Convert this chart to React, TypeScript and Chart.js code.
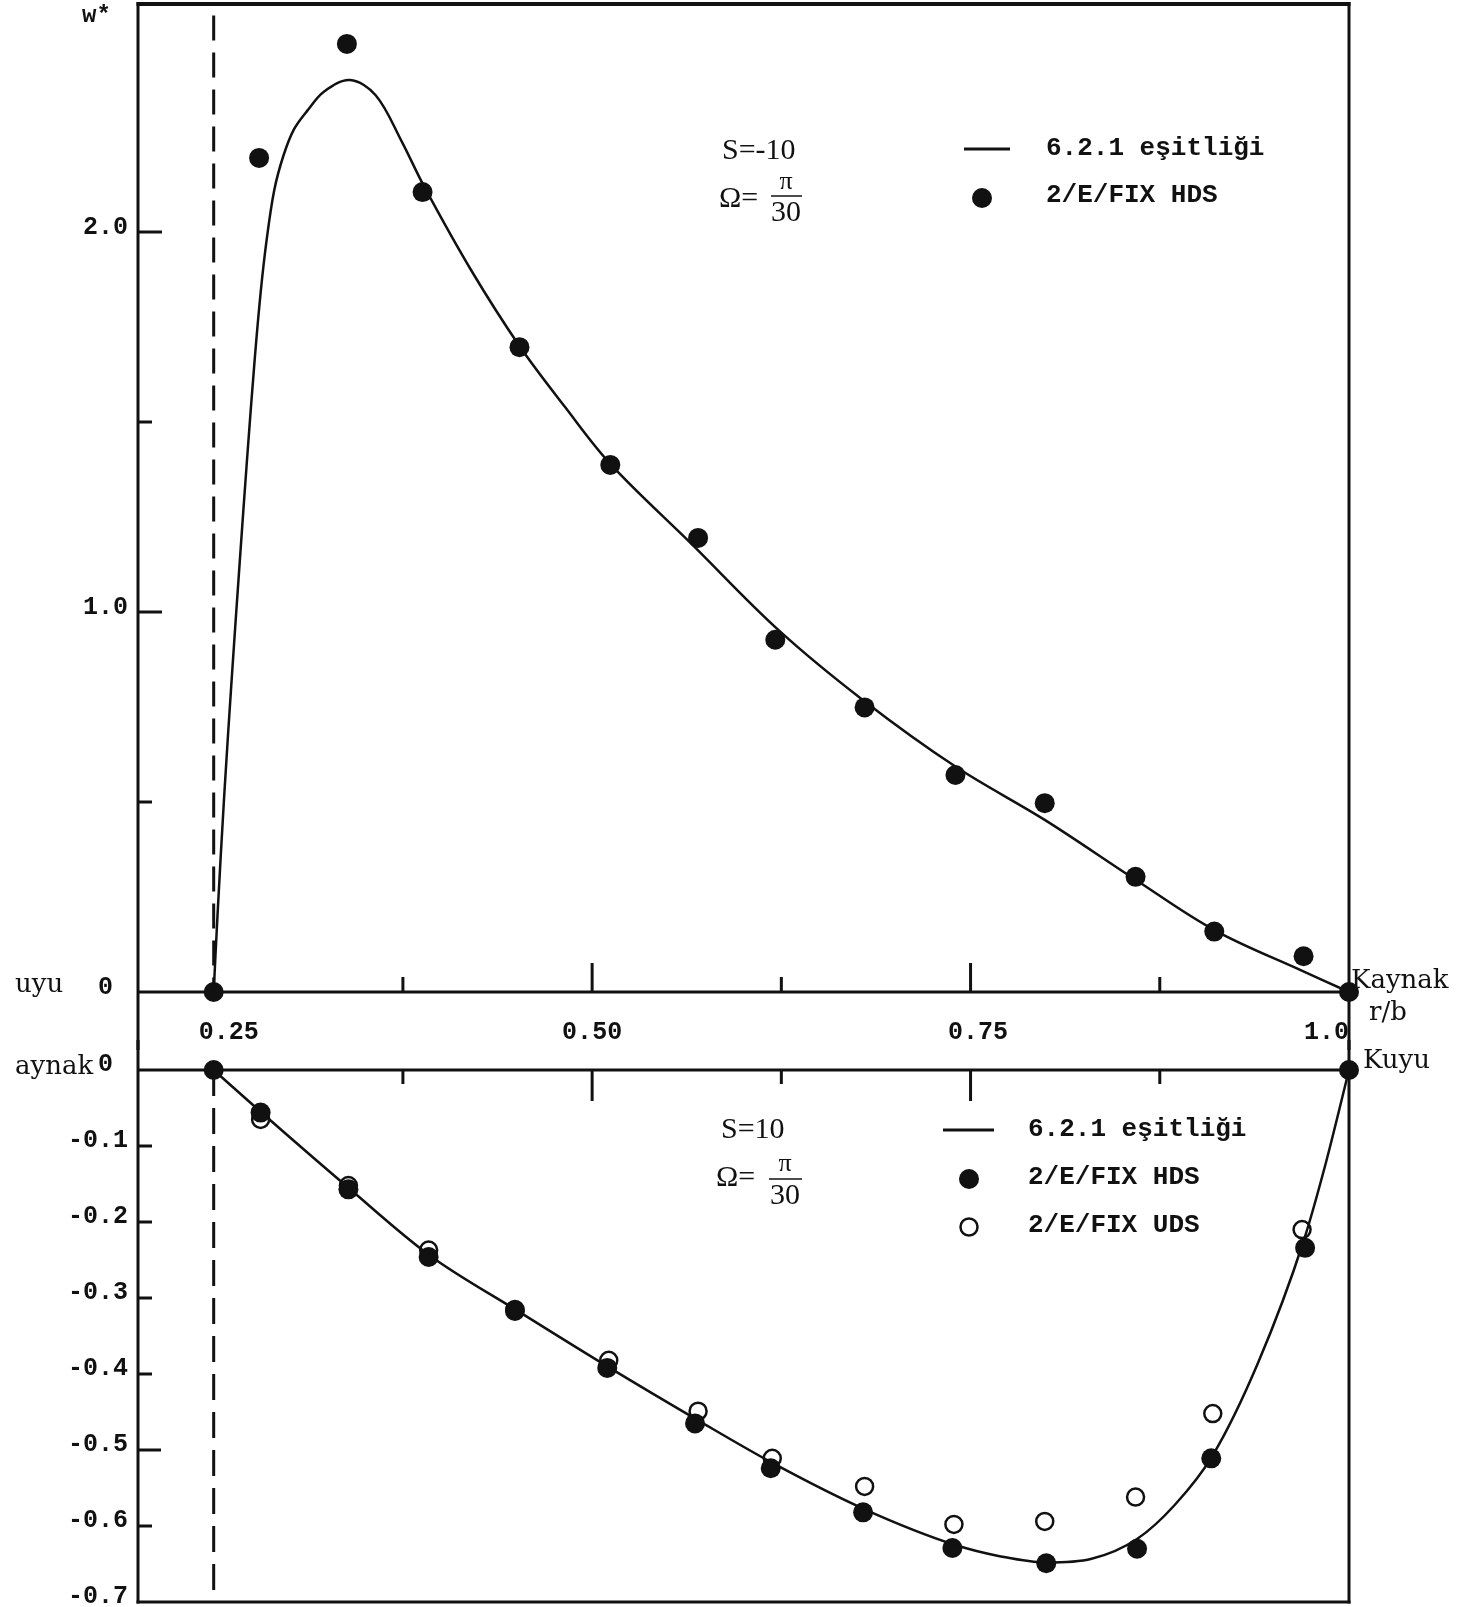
import React, { useEffect, useRef } from 'react';
import { Chart, registerables } from 'chart.js';

Chart.register(...registerables);

const INK = '#111111';
const MONO = "'Liberation Mono', 'DejaVu Sans Mono', monospace";
const SERIF = "'Liberation Serif', serif";
const SERIF_WIDE = "'DejaVu Serif', serif";

// ---------- axes ----------
const INNER_RADIUS = 0.25; // r/b of the inner wall (dashed line)
const X_MIN = 0.2;
const X_MAX = 1.0;
const TOP_Y_MIN = 0;
const TOP_Y_MAX = 2.6;
const BOT_Y_MIN = -0.7;
const BOT_Y_MAX = 0;
const DASH_TOP_Y = [2.57, 0];
const DASH_BOT_Y = [0, -0.7];

const X_TICK_VALUES = [0.25, 0.5, 0.75, 1.0];
const X_TICK_LABELS = ['  0.25', '0.50', ' 0.75', '1.0   '];
const X_MAJOR_MARKS = [0.5, 0.75];
const X_MINOR_MARKS = [0.375, 0.625, 0.875];

const TOP_Y_TICK_VALUES = [0, 1, 2];
const TOP_Y_TICK_LABELS = ['0 ', '1.0', '2.0'];
const TOP_Y_MAJOR_MARKS = [1, 2];
const TOP_Y_MINOR_MARKS = [0.5, 1.5];

const BOT_Y_TICK_VALUES = [0, -0.1, -0.2, -0.3, -0.4, -0.5, -0.6, -0.7];
const BOT_Y_TICK_LABELS = ['0 ', '-0.1', '-0.2', '-0.3', '-0.4', '-0.5', '-0.6', '-0.7'];
const BOT_Y_MAJOR_MARKS = [-0.5];
const BOT_Y_MINOR_MARKS = [-0.1, -0.2, -0.3, -0.4, -0.6];

// ---------- top panel (S = -10) ----------
const TOP_CURVE_X = [0.25, 0.2525, 0.257, 0.262, 0.267, 0.272, 0.277, 0.281, 0.285, 0.29, 0.296, 0.303, 0.312, 0.323, 0.34, 0.357, 0.374, 0.389, 0.42, 0.452, 0.482, 0.512, 0.5655, 0.623, 0.679, 0.7405, 0.799, 0.858, 0.911, 0.9695, 1.0];
const TOP_CURVE_Y = [0, 0.2, 0.52, 0.83, 1.12, 1.4, 1.66, 1.84, 1.98, 2.11, 2.2, 2.27, 2.32, 2.37, 2.4, 2.36, 2.24, 2.12, 1.9, 1.7, 1.54, 1.39, 1.18, 0.953, 0.768, 0.592, 0.453, 0.298, 0.163, 0.055, 0];
const TOP_HDS_X = [0.25, 0.28, 0.338, 0.388, 0.452, 0.512, 0.57, 0.621, 0.68, 0.74, 0.799, 0.859, 0.911, 0.97, 1.0];
const TOP_HDS_Y = [0, 2.195, 2.495, 2.105, 1.697, 1.387, 1.195, 0.927, 0.749, 0.571, 0.497, 0.303, 0.159, 0.094, 0];

// ---------- bottom panel (S = 10) ----------
const BOT_CURVE_X = [0.25, 0.281, 0.339, 0.392, 0.45, 0.51, 0.57, 0.62, 0.68, 0.74, 0.77, 0.8, 0.83, 0.86, 0.885, 0.91, 0.94, 0.97, 0.985, 1.0];
const BOT_CURVE_Y = [0, -0.055, -0.155, -0.243, -0.316, -0.39, -0.461, -0.518, -0.578, -0.625, -0.64, -0.648, -0.643, -0.617, -0.572, -0.507, -0.385, -0.225, -0.12, 0];
const BOT_HDS_X = [0.25, 0.281, 0.339, 0.392, 0.449, 0.51, 0.568, 0.618, 0.679, 0.738, 0.8, 0.86, 0.909, 0.971, 1.0];
const BOT_HDS_Y = [0, -0.056, -0.157, -0.246, -0.317, -0.392, -0.465, -0.524, -0.582, -0.629, -0.649, -0.63, -0.511, -0.234, 0];
const BOT_UDS_X = [0.281, 0.339, 0.392, 0.449, 0.511, 0.57, 0.619, 0.68, 0.739, 0.799, 0.859, 0.91, 0.969];
const BOT_UDS_Y = [-0.065, -0.152, -0.237, -0.315, -0.382, -0.449, -0.511, -0.548, -0.598, -0.594, -0.562, -0.452, -0.21];

const pts = (xs: number[], ys: number[]) => xs.map((x, i) => ({ x, y: ys[i] }));
const labelFor = (values: number[], labels: string[]) => (v: any) => {
  const i = values.findIndex((t) => Math.abs(t - Number(v)) < 1e-6);
  return i >= 0 ? labels[i] : '';
};

function line(ctx: CanvasRenderingContext2D, x1: number, y1: number, x2: number, y2: number, w: number) {
  ctx.save();
  ctx.strokeStyle = INK;
  ctx.lineWidth = w;
  ctx.lineCap = 'butt';
  ctx.beginPath();
  ctx.moveTo(x1, y1);
  ctx.lineTo(x2, y2);
  ctx.stroke();
  ctx.restore();
}

function text(ctx: CanvasRenderingContext2D, s: string, x: number, y: number, font: string, align: CanvasTextAlign = 'left') {
  ctx.save();
  ctx.fillStyle = INK;
  ctx.font = font;
  ctx.textAlign = align;
  ctx.textBaseline = 'middle';
  ctx.fillText(s, x, y);
  ctx.restore();
}

function dot(ctx: CanvasRenderingContext2D, x: number, y: number, r: number, filled: boolean) {
  ctx.save();
  ctx.beginPath();
  ctx.arc(x, y, r, 0, Math.PI * 2);
  if (filled) {
    ctx.fillStyle = INK;
    ctx.fill();
  } else {
    ctx.strokeStyle = INK;
    ctx.lineWidth = 2.5;
    ctx.stroke();
  }
  ctx.restore();
}

// page layout (px)
const TOP_SHIFT = 6; // top canvas starts 6px above the page so the frame sits at y=4
const TOP_H = 1056;
const ZERO_TOP_PAGE = 992;
const BOT_TOP = 1040;
const BOT_H = 573;
const LEGEND_FONT = `bold 26px ${MONO}`;
const PARAM_FONT = `30px ${SERIF}`;
const NAME_FONT = `26px ${SERIF_WIDE}`;

const topFrame = {
  id: 'topFrame',
  beforeDatasetsDraw(chart: any) {
    const ctx = chart.ctx;
    const { left, right, top, bottom } = chart.chartArea;
    const xs = chart.scales.x;
    const ys = chart.scales.y;
    line(ctx, left, top - 2, left, TOP_H, 3);
    line(ctx, right, top - 2, right, TOP_H, 3);
    line(ctx, left - 1.5, top, right + 1.5, top, 4);
    line(ctx, left, bottom, right, bottom, 3);
    X_MAJOR_MARKS.forEach((v) => { const p = xs.getPixelForValue(v); line(ctx, p, bottom, p, bottom - 29, 3); });
    X_MINOR_MARKS.forEach((v) => { const p = xs.getPixelForValue(v); line(ctx, p, bottom, p, bottom - 15, 3); });
    TOP_Y_MAJOR_MARKS.forEach((v) => { const p = ys.getPixelForValue(v); line(ctx, left, p, left + 24, p, 3); });
    TOP_Y_MINOR_MARKS.forEach((v) => { const p = ys.getPixelForValue(v); line(ctx, left, p, left + 14, p, 3); });
  },
  afterDraw(chart: any) {
    const ctx = chart.ctx;
    ctx.save();
    ctx.translate(0, TOP_SHIFT);
    text(ctx, 'w*', 82, 16, `bold 24px ${MONO}`);
    text(ctx, 'uyu', 15, 985, NAME_FONT);
    text(ctx, 'Kaynak', 1351, 981, NAME_FONT);
    text(ctx, 'r/b', 1369, 1013, NAME_FONT);
    // parameters
    text(ctx, 'S=-10', 722, 151, PARAM_FONT);
    text(ctx, 'Ω=', 719, 199, PARAM_FONT);
    text(ctx, 'π', 786, 182, `26px ${SERIF}`, 'center');
    line(ctx, 771, 196, 802, 196, 1.5);
    text(ctx, '30', 786, 213, PARAM_FONT, 'center');
    // legend
    line(ctx, 964, 149, 1010, 149, 3);
    text(ctx, '6.2.1 eşitliği', 1046, 148, LEGEND_FONT);
    dot(ctx, 982, 198, 10, true);
    text(ctx, '2/E/FIX HDS', 1046, 195, LEGEND_FONT);
    ctx.restore();
  },
};

const botFrame = {
  id: 'botFrame',
  beforeDatasetsDraw(chart: any) {
    const ctx = chart.ctx;
    const { left, right, top, bottom } = chart.chartArea;
    const xs = chart.scales.x;
    const ys = chart.scales.y;
    line(ctx, left, 0, left, bottom + 1.5, 3);
    line(ctx, right, 0, right, bottom + 1.5, 3);
    line(ctx, left, top, right, top, 3);
    line(ctx, left - 1.5, bottom, right + 1.5, bottom, 3);
    X_MAJOR_MARKS.forEach((v) => { const p = xs.getPixelForValue(v); line(ctx, p, top, p, top + 31, 3); });
    X_MINOR_MARKS.forEach((v) => { const p = xs.getPixelForValue(v); line(ctx, p, top, p, top + 14, 3); });
    BOT_Y_MAJOR_MARKS.forEach((v) => { const p = ys.getPixelForValue(v); line(ctx, left, p, left + 23, p, 3); });
    BOT_Y_MINOR_MARKS.forEach((v) => { const p = ys.getPixelForValue(v); line(ctx, left, p, left + 14, p, 3); });
  },
  afterDraw(chart: any) {
    const ctx = chart.ctx;
    text(ctx, 'aynak', 15, 27, NAME_FONT);
    text(ctx, 'Kuyu', 1363, 21, NAME_FONT);
    text(ctx, 'S=10', 721, 90, PARAM_FONT);
    text(ctx, 'Ω=', 716, 138, PARAM_FONT);
    text(ctx, 'π', 785, 124, `26px ${SERIF}`, 'center');
    line(ctx, 769, 139, 802, 139, 1.5);
    text(ctx, '30', 785, 156, PARAM_FONT, 'center');
    line(ctx, 943, 90, 994, 90, 3);
    text(ctx, '6.2.1 eşitliği', 1028, 89, LEGEND_FONT);
    dot(ctx, 969, 139, 10, true);
    text(ctx, '2/E/FIX HDS', 1028, 137, LEGEND_FONT);
    dot(ctx, 969, 187, 8.5, false);
    text(ctx, '2/E/FIX UDS', 1028, 185, LEGEND_FONT);
  },
};

const tickFont = { family: MONO, size: 25, weight: 'bold' };

const noPadY = (s: any) => { s.width = 138; s.paddingTop = 0; s.paddingBottom = 0; };

function topConfig(): any {
  return {
    type: 'scatter',
    data: {
      datasets: [
        { label: 'r/b = 0.25', data: pts([INNER_RADIUS, INNER_RADIUS], DASH_TOP_Y), showLine: true, borderColor: INK, borderWidth: 3, borderDash: [25, 12], pointRadius: 0, tension: 0, clip: false },
        { label: '6.2.1 eşitliği', data: pts(TOP_CURVE_X, TOP_CURVE_Y), showLine: true, borderColor: INK, borderWidth: 2.5, pointRadius: 0, tension: 0.35, clip: false },
        { label: '2/E/FIX HDS', data: pts(TOP_HDS_X, TOP_HDS_Y), showLine: false, pointRadius: 10, pointBackgroundColor: INK, pointBorderColor: INK, pointBorderWidth: 0, clip: false },
      ],
    },
    options: {
      responsive: false,
      animation: false,
      events: [],
      layout: { padding: { left: 0, top: 10, right: 116, bottom: 0 } },
      plugins: { legend: { display: false }, tooltip: { enabled: false } },
      scales: {
        x: {
          type: 'linear', min: X_MIN, max: X_MAX,
          afterBuildTicks: (s: any) => { s.ticks = X_TICK_VALUES.map((value) => ({ value })); },
          afterFit: (s: any) => { s.height = TOP_H - (ZERO_TOP_PAGE + TOP_SHIFT); s.paddingLeft = 0; s.paddingRight = 0; },
          grid: { display: false, drawTicks: false },
          border: { display: false },
          ticks: { autoSkip: false, maxRotation: 0, padding: 26, color: INK, font: tickFont, callback: labelFor(X_TICK_VALUES, X_TICK_LABELS) },
        },
        y: {
          type: 'linear', min: TOP_Y_MIN, max: TOP_Y_MAX,
          afterBuildTicks: (s: any) => { s.ticks = TOP_Y_TICK_VALUES.map((value) => ({ value })); },
          afterFit: noPadY,
          grid: { display: false, drawTicks: false },
          border: { display: false },
          ticks: { autoSkip: false, padding: 10, labelOffset: -4, color: INK, font: tickFont, callback: labelFor(TOP_Y_TICK_VALUES, TOP_Y_TICK_LABELS) },
        },
      },
    },
    plugins: [topFrame],
  };
}

function botConfig(): any {
  return {
    type: 'scatter',
    data: {
      datasets: [
        { label: 'r/b = 0.25', data: pts([INNER_RADIUS, INNER_RADIUS], DASH_BOT_Y), showLine: true, borderColor: INK, borderWidth: 3, borderDash: [26, 12], pointRadius: 0, tension: 0, clip: false },
        { label: '6.2.1 eşitliği', data: pts(BOT_CURVE_X, BOT_CURVE_Y), showLine: true, borderColor: INK, borderWidth: 2.5, pointRadius: 0, cubicInterpolationMode: 'monotone', clip: false },
        { label: '2/E/FIX HDS', data: pts(BOT_HDS_X, BOT_HDS_Y), showLine: false, pointRadius: 10, pointBackgroundColor: INK, pointBorderColor: INK, pointBorderWidth: 0, clip: false },
        { label: '2/E/FIX UDS', data: pts(BOT_UDS_X, BOT_UDS_Y), showLine: false, pointRadius: 8.5, pointBackgroundColor: 'rgba(0,0,0,0)', pointBorderColor: INK, pointBorderWidth: 2.5, clip: false },
      ],
    },
    options: {
      responsive: false,
      animation: false,
      events: [],
      layout: { padding: { left: 0, top: 30, right: 116, bottom: 11 } },
      plugins: { legend: { display: false }, tooltip: { enabled: false } },
      scales: {
        x: {
          type: 'linear', min: X_MIN, max: X_MAX,
          afterFit: (s: any) => { s.height = 0; s.paddingLeft = 0; s.paddingRight = 0; },
          grid: { display: false, drawTicks: false },
          border: { display: false },
          ticks: { display: false },
        },
        y: {
          type: 'linear', min: BOT_Y_MIN, max: BOT_Y_MAX,
          afterBuildTicks: (s: any) => { s.ticks = BOT_Y_TICK_VALUES.map((value) => ({ value })); },
          afterFit: noPadY,
          grid: { display: false, drawTicks: false },
          border: { display: false },
          ticks: { autoSkip: false, padding: 10, labelOffset: -5, color: INK, font: tickFont, callback: labelFor(BOT_Y_TICK_VALUES, BOT_Y_TICK_LABELS) },
        },
      },
    },
    plugins: [botFrame],
  };
}

export default function App() {
  const topRef = useRef<HTMLCanvasElement | null>(null);
  const botRef = useRef<HTMLCanvasElement | null>(null);

  useEffect(() => {
    const a = new Chart(topRef.current as HTMLCanvasElement, topConfig());
    const b = new Chart(botRef.current as HTMLCanvasElement, botConfig());
    return () => {
      a.destroy();
      b.destroy();
    };
  }, []);

  return (
    <div style={{ position: 'absolute', left: 0, top: 0, width: 1465, height: 1607, background: '#ffffff', overflow: 'hidden' }}>
      <canvas ref={topRef} width={1465} height={TOP_H} style={{ position: 'absolute', left: 0, top: -TOP_SHIFT, width: 1465, height: TOP_H }} />
      <canvas ref={botRef} width={1465} height={BOT_H} style={{ position: 'absolute', left: 0, top: BOT_TOP, width: 1465, height: BOT_H }} />
    </div>
  );
}
